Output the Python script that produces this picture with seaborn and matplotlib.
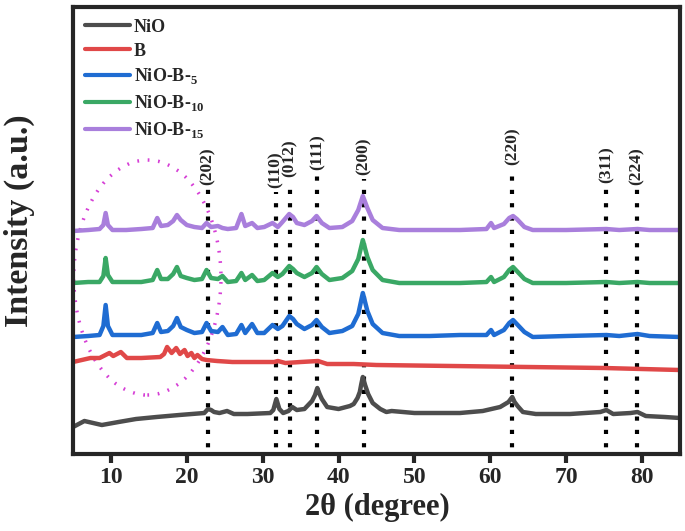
import numpy as np
import pandas as pd
import seaborn as sns
import matplotlib.pyplot as plt
from matplotlib.patches import Ellipse

# XRD patterns, values (2theta in degree, intensity in a.u.)
nio_x = [5.0, 6.5, 8.8, 11, 13.3, 16, 19, 22.3, 22.8, 23.2, 23.6, 24.3, 25.3, 26.2, 28, 31.0, 31.4, 31.8,
         32.2, 32.7, 33.4, 33.9, 34.5, 35.5, 36.5, 36.9, 37.2, 37.5, 37.8, 38.5, 40, 41.5, 42.0, 42.5, 42.8,
         43.0, 43.2, 43.5, 43.9, 44.5, 45.5, 46.3, 47, 50, 53, 56, 59, 61.3, 62.4, 62.7, 62.9, 63.2, 63.6,
         64.3, 66, 70.5, 74.5, 75.3, 76.2, 78.5, 79.4, 80.5, 83, 85]
nio_y = [47, 53, 49, 52, 55, 57, 59, 61, 65, 64, 62, 61, 63, 60, 60, 61, 64, 75,
         65, 61, 63, 67, 64, 65, 73, 79, 86, 80, 75, 67, 65, 68, 70, 76, 82,
         90, 97, 89, 80, 71, 65, 62, 63, 61, 61, 61, 63, 67, 72, 75, 77, 72, 68,
         62, 60, 60, 62, 64, 60, 61, 62, 58, 57, 56]

b_x = [5.0, 7.3, 8.5, 9.8, 10.3, 11.3, 12.1, 14, 16.5, 17.0, 17.4, 18.0, 18.6, 19.1, 19.7, 20.1, 20.6,
       21.0, 21.4, 22.0, 22.6, 24, 26, 28, 30, 31.5, 32, 33, 35, 37.3, 38.5, 42, 45, 55, 65, 75, 85]
b_y = [112, 116, 116, 121, 118, 122, 116, 116, 117, 120, 127, 121, 126, 120, 124, 118, 121,
       116, 119, 115, 114, 113, 112, 112, 112, 112, 113, 111, 112, 113, 110, 110, 109, 108, 107, 106, 104]

# the three composites share the same 2theta points
comp_x = [5.0, 7, 8.5, 9.0, 9.3, 9.6, 10.2, 12, 14, 15.5, 16.1, 16.6, 17.5, 18.2, 18.7, 19.2, 20, 21,
          22.0, 22.6, 23.2, 24.1, 24.7, 25.4, 26.5, 27.2, 27.7, 28.6, 29.3, 30.2, 31.3, 32.0, 32.6, 33.5,
          34.0, 34.5, 35.5, 36.5, 37.1, 37.8, 38.8, 40.5, 41.8, 42.6, 43.2, 43.8, 44.5, 45.8, 48, 52, 56,
          59.5, 60.1, 60.5, 61.8, 62.5, 63.0, 63.5, 64.5, 65.6, 70, 75.3, 77, 79.4, 81, 85]
b5_y = [137, 138, 139, 148, 169, 148, 139, 139, 139, 141, 151, 142, 143, 148, 156, 147, 144, 141,
        142, 151, 143, 142, 147, 139, 140, 149, 141, 150, 141, 141, 149, 145, 148, 158,
        155, 150, 145, 149, 154, 147, 141, 143, 148, 160, 181, 163, 150, 141, 138, 138, 139,
        139, 144, 139, 144, 151, 154, 150, 142, 137, 138, 139, 138, 140, 138, 137]
b10_y = [191, 192, 192, 198, 216, 199, 192, 192, 192, 194, 204, 195, 195, 200, 207, 198, 196, 194,
         195, 204, 196, 195, 198, 192, 193, 201, 194, 199, 193, 194, 201, 197, 200, 208,
         205, 201, 197, 201, 207, 200, 194, 196, 203, 215, 234, 217, 204, 194, 191, 191, 191,
         192, 197, 192, 197, 204, 207, 203, 195, 191, 191, 192, 191, 192, 191, 191]
b15_y = [243, 244, 245, 249, 261, 249, 244, 244, 245, 246, 256, 248, 249, 253, 259, 254, 249, 247,
         246, 251, 247, 248, 246, 245, 246, 260, 248, 251, 246, 247, 251, 247, 252, 260,
         257, 251, 249, 253, 258, 251, 246, 247, 253, 264, 278, 266, 254, 246, 244, 244, 244,
         245, 251, 246, 250, 256, 258, 255, 247, 244, 244, 245, 244, 245, 244, 244]

samples = ['NiO', 'B', 'NiO-B-$_{\\mathbf{5}}$', 'NiO-B-$_{\\mathbf{10}}$', 'NiO-B-$_{\\mathbf{15}}$']
colors = ['#4d4d4d', '#e04848', '#1f6cd2', '#3aa865', '#a97fdc']

# reflections
peak_pos = [22.8, 31.7, 33.6, 37.2, 43.3, 62.9, 75.3, 79.3]
peak_hkl = ['(202)', '(110)', '(012)', '(111)', '(200)', '(220)', '(311)', '(224)']
label_y = [289, 286, 297, 304, 299, 309, 291, 289]

frames = []
for name, xs, ys in zip(samples, [nio_x, b_x, comp_x, comp_x, comp_x], [nio_y, b_y, b5_y, b10_y, b15_y]):
    frames.append(pd.DataFrame({'two_theta': xs, 'intensity': ys, 'sample': name}))
df = pd.concat(frames, ignore_index=True)

sns.set_style('ticks')
plt.rcParams['font.family'] = ['Liberation Serif', 'DejaVu Serif']
plt.rcParams['font.weight'] = 'bold'
plt.rcParams['mathtext.fontset'] = 'custom'
plt.rcParams['mathtext.rm'] = 'Liberation Serif'
plt.rcParams['mathtext.bf'] = 'Liberation Serif:bold'

fig = plt.figure(figsize=(6.85, 5.31), dpi=100)
ax = fig.add_axes([0.1066, 0.145, 0.886, 0.8418])

sns.lineplot(data=df, x='two_theta', y='intensity', hue='sample', hue_order=samples,
             palette=colors, estimator=None, sort=False, linewidth=3.2, ax=ax)

for pos, hkl, ly in zip(peak_pos, peak_hkl, label_y):
    ax.plot([pos, pos], [0, ly - 4], color='black', lw=3, linestyle=(0, (1, 2.2)), zorder=1)
    ax.text(pos, ly, hkl, rotation=90, ha='center', va='bottom', fontsize=12.5, fontweight='bold')

ax.add_patch(Ellipse((14.8, 196.5), 19.4, 235, fill=False, edgecolor='#d63fd6', lw=2.5,
                     linestyle=(0, (0.5, 2.5)), zorder=1))

ax.set_xlim(5, 85)
ax.set_ylim(20, 467)
ax.set_xticks([10, 20, 30, 40, 50, 60, 70, 80])
ax.set_yticks([])
ax.tick_params(axis='x', direction='out', length=6.5, width=3, labelsize=17, pad=3)
for lab in ax.get_xticklabels():
    lab.set_fontweight('bold')
for sp in ax.spines.values():
    sp.set_linewidth(3)
    sp.set_visible(True)
ax.set_xlabel('2θ (degree)', fontsize=22, fontweight='bold')
ax.set_ylabel('Intensity (a.u.)', fontsize=24.5, fontweight='bold')
ax.xaxis.set_label_coords(0.501, -0.088)
ax.yaxis.set_label_coords(-0.062, 0.521)

leg = ax.legend(loc='upper left', frameon=False, fontsize=13, handlelength=2.5,
                handletextpad=0.2, labelspacing=0.38, borderaxespad=0.25, borderpad=0.4)
for line in leg.get_lines():
    line.set_linewidth(3)
for t in leg.get_texts():
    t.set_fontweight('bold')

fig.savefig('out.png', dpi=100)
